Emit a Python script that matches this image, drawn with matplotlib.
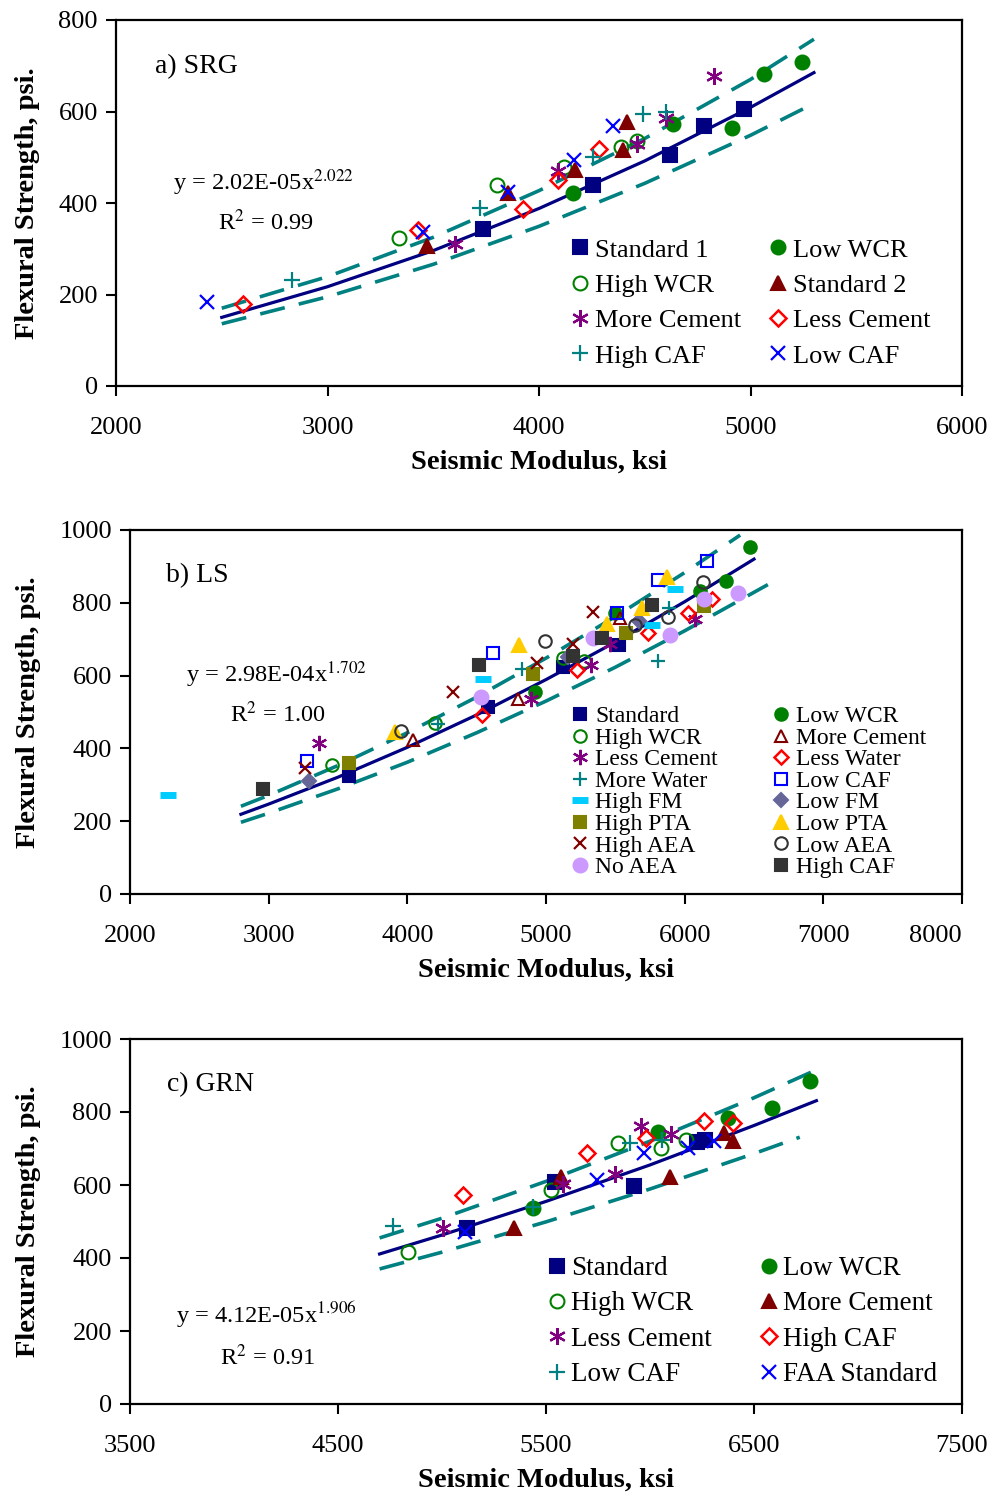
import matplotlib
matplotlib.use("Agg")
import matplotlib.pyplot as plt

plt.rcParams['font.family'] = ['Liberation Serif', 'DejaVu Serif']
plt.rcParams['mathtext.fontset'] = 'stix'

# ---------------- Panel a) SRG ----------------
a_std1_x = [3734, 4254, 4619, 4780, 4969]
a_std1_y = [343, 439, 505, 568, 605]
a_lowwcr_x = [4159, 4632, 4911, 5064, 5245]
a_lowwcr_y = [421, 573, 565, 682, 709]
a_highwcr_x = [3338, 3800, 4120, 4386, 4462]
a_highwcr_y = [323, 439, 479, 522, 536]
a_std2_x = [3469, 3855, 4170, 4395, 4414]
a_std2_y = [305, 421, 472, 516, 578]
a_morecem_x = [3603, 4091, 4462, 4600, 4827]
a_morecem_y = [310, 469, 530, 585, 678]
a_lesscem_x = [2602, 3429, 3926, 4091, 4285]
a_lesscem_y = [179, 340, 386, 450, 517]
a_highcaf_x = [2831, 3721, 4257, 4490, 4600]
a_highcaf_y = [232, 388, 501, 595, 600]
a_lowcaf_x = [2432, 3453, 3855, 4165, 4348]
a_lowcaf_y = [184, 337, 425, 495, 568]

a_fit_x = [2500, 3000, 3500, 4000, 4500, 5000, 5300]
a_fit_y = [150, 217, 296, 388, 492, 609, 685]
a_up_x = [2500, 3000, 3500, 4000, 4500, 5000, 5300]
a_up_y = [170, 239, 325, 427, 541, 670, 758]
a_lo_x = [2500, 3000, 3500, 4000, 4500, 5000, 5250]
a_lo_y = [136, 195, 266, 349, 443, 548, 606]

# ---------------- Panel b) LS ----------------
b_std_x = [3579, 4584, 5125, 5527]
b_std_y = [325, 514, 624, 684]
b_lowwcr_x = [4921, 5498, 6111, 6298, 6472]
b_lowwcr_y = [556, 771, 832, 861, 952]
b_highwcr_x = [3454, 4200, 5125, 5274]
b_highwcr_y = [354, 469, 647, 641]
b_morecem_x = [4039, 4800, 5534]
b_morecem_y = [423, 537, 757]
b_lesscem_x = [3365, 4890, 5322, 5462, 6077]
b_lesscem_y = [414, 535, 629, 688, 755]
b_lesswater_x = [4536, 5221, 5739, 6027, 6195]
b_lesswater_y = [492, 615, 716, 772, 810]
b_morewater_x = [4224, 4825, 5810, 5890]
b_morewater_y = [467, 618, 641, 787]
b_lowcaf_x = [3279, 4616, 5510, 5810, 6159]
b_lowcaf_y = [366, 662, 773, 864, 915]
b_highfm_x = [2274, 4548, 5762, 5931]
b_highfm_y = [272, 592, 739, 837]
b_lowfm_x = [3293, 5161, 5673]
b_lowfm_y = [311, 652, 750]
b_highpta_x = [3579, 4904, 5577, 6142]
b_highpta_y = [361, 604, 718, 791]
b_lowpta_x = [3911, 4805, 5438, 5690, 5870]
b_lowpta_y = [446, 684, 743, 787, 872]
b_highaea_x = [3262, 4330, 4938, 5192, 5341]
b_highaea_y = [345, 556, 634, 688, 775]
b_lowaea_x = [3954, 4993, 5642, 5882, 6130]
b_lowaea_y = [448, 696, 739, 760, 856]
b_noaea_x = [4530, 5341, 5894, 6142, 6387]
b_noaea_y = [542, 702, 711, 810, 827]
b_highcaf_x = [2961, 4518, 5192, 5406, 5767]
b_highcaf_y = [288, 629, 654, 702, 794]

b_fit_x = [2800, 3000, 3500, 4000, 4500, 5000, 5500, 6000, 6500]
b_fit_y = [219, 247, 321, 403, 492, 589, 692, 803, 920]
b_up_x = [2800, 3000, 3500, 4000, 4500, 5000, 5500, 6000, 6400]
b_up_y = [241, 271, 353, 443, 541, 648, 762, 883, 986]
b_lo_x = [2800, 3000, 3500, 4000, 4500, 5000, 5500, 6000, 6600]
b_lo_y = [197, 222, 289, 362, 443, 530, 623, 723, 850]

# ---------------- Panel c) GRN ----------------
c_std_x = [5119, 5543, 5925, 6224, 6265]
c_std_y = [481, 609, 597, 719, 723]
c_lowwcr_x = [5436, 6040, 6377, 6585, 6769]
c_lowwcr_y = [536, 746, 783, 810, 886]
c_highwcr_x = [4838, 5522, 5848, 6051, 6173]
c_highwcr_y = [417, 586, 716, 701, 723]
c_morecem_x = [5346, 5571, 6096, 6356, 6398]
c_morecem_y = [481, 623, 623, 743, 721]
c_lesscem_x = [5003, 5580, 5832, 5955, 6099]
c_lesscem_y = [481, 603, 630, 762, 740]
c_highcaf_x = [5100, 5695, 5981, 6260, 6398]
c_highcaf_y = [573, 689, 728, 776, 771]
c_lowcaf_x = [4763, 5436, 5904, 6056]
c_lowcaf_y = [489, 540, 716, 723]
c_faa_x = [5111, 5743, 5971, 6184, 6308]
c_faa_y = [470, 614, 689, 702, 721]

c_fit_x = [4700, 5000, 5500, 6000, 6500, 6800]
c_fit_y = [411, 463, 555, 655, 763, 831]
c_up_x = [4700, 5000, 5500, 6000, 6500, 6790]
c_up_y = [455, 509, 610, 720, 839, 913]
c_lo_x = [4700, 5000, 5500, 6000, 6500, 6720]
c_lo_y = [370, 416, 499, 589, 686, 731]

# ---------------- styles ----------------
NAVY = '#000080'; GREEN = '#008000'; DRED = '#800000'; PURPLE = '#800080'
RED = '#FF0000'; TEAL = '#008080'; BLUE = '#0000FF'; CYAN = '#00CCFF'
SLATE = '#666699'; OLIVE = '#808000'; GOLD = '#FFCC00'; DGRAY = '#333333'
LAV = '#CC99FF'
AST = (6, 2, 0)


def st(marker, color, filled=True, ms=9, mew=1.5):
    d = dict(marker=marker, linestyle='none', markersize=ms, markeredgewidth=mew,
             markeredgecolor=color)
    d['markerfacecolor'] = color if filled else 'none'
    return d


S_SQ = lambda c, ms=10: st('s', c, True, ms)
S_CIRC = lambda c, ms=10: st('o', c, True, ms)
S_OCIRC = lambda c, ms=10: st('o', c, False, ms)
S_TRI = lambda c, ms=10: st('^', c, True, ms)
S_OTRI = lambda c, ms=9: st('^', c, False, ms)
S_AST = lambda c, ms=12: st(AST, c, False, ms, 1.6)
S_DIA = lambda c, ms=8: st('D', c, False, ms, 1.8)
S_PLUS = lambda c, ms=11: st('+', c, False, ms, 1.6)
S_X = lambda c, ms=10: st('x', c, False, ms, 1.6)

W, H = 994, 1496
fig = plt.figure(figsize=(W / 100, H / 100), dpi=100)

TICKFS = 19
LABFS = 20.5
TXTFS = 17.6


def make_ax(l, r, t, b):
    return fig.add_axes([l / W, (H - b) / H, (r - l) / W, (b - t) / H])


def style_ax(ax, xlim, ylim, xt, yt):
    ax.set_xlim(*xlim); ax.set_ylim(*ylim)
    ax.set_xticks(xt); ax.set_yticks(yt)
    ax.tick_params(direction='out', length=7, width=1.5, labelsize=TICKFS, pad=6)
    ax.tick_params(axis='x', pad=15)
    for s in ax.spines.values():
        s.set_linewidth(1.6)
    ax.set_xlabel('Seismic Modulus, ksi', fontsize=LABFS, fontweight='bold', labelpad=8)
    ax.set_ylabel('Flexural Strength, psi.', fontsize=LABFS, fontweight='bold', labelpad=13)


def draw_fit(ax, fx, fy, ux, uy, lx, ly):
    ax.plot(fx, fy, color=NAVY, lw=2.3, zorder=2)
    ax.plot(ux, uy, color=TEAL, lw=2.6, linestyle=(0, (7, 4)), zorder=2)
    ax.plot(lx, ly, color=TEAL, lw=2.6, linestyle=(0, (7, 4)), zorder=2)


# ---- a ----
axa = make_ax(116, 962, 20, 386)
draw_fit(axa, a_fit_x, a_fit_y, a_up_x, a_up_y, a_lo_x, a_lo_y)
sa = [
    ('Standard 1', a_std1_x, a_std1_y, S_SQ(NAVY)),
    ('Low WCR', a_lowwcr_x, a_lowwcr_y, S_CIRC(GREEN)),
    ('High WCR', a_highwcr_x, a_highwcr_y, S_OCIRC(GREEN)),
    ('Standard 2', a_std2_x, a_std2_y, S_TRI(DRED)),
    ('More Cement', a_morecem_x, a_morecem_y, S_AST(PURPLE)),
    ('Less Cement', a_lesscem_x, a_lesscem_y, S_DIA(RED)),
    ('High CAF', a_highcaf_x, a_highcaf_y, S_PLUS(TEAL)),
    ('Low CAF', a_lowcaf_x, a_lowcaf_y, S_X(BLUE)),
]
ha = []
for lab, x, y, s in sa:
    h, = axa.plot(x, y, label=lab, zorder=3, **s)
    ha.append(h)
style_ax(axa, (2000, 6000), (0, 800), [2000, 3000, 4000, 5000, 6000], [0, 200, 400, 600, 800])
axa.text(0.046, 0.872, 'a) SRG', transform=axa.transAxes, fontsize=20, va='center')
axa.text(0.067, 0.555, r'y = 2.02E-05x$^{2.022}$', transform=axa.transAxes, fontsize=TXTFS, va='center')
axa.text(0.1206, 0.448, r'R$^{2}$ = 0.99', transform=axa.transAxes, fontsize=TXTFS, va='center')
order = [0, 2, 4, 6, 1, 3, 5, 7]
axa.legend([ha[i] for i in order], [sa[i][0] for i in order], ncol=2, frameon=False,
           loc='upper left', bbox_to_anchor=(0.534, 0.404), borderpad=0, borderaxespad=0,
           fontsize=19, handlelength=0.9, handletextpad=0.12, labelspacing=0.45,
           columnspacing=0.95)

# ---- b ----
axb = make_ax(130, 962, 530, 894)
draw_fit(axb, b_fit_x, b_fit_y, b_up_x, b_up_y, b_lo_x, b_lo_y)
ms_b = 9
sb = [
    ('Standard', b_std_x, b_std_y, S_SQ(NAVY, ms_b)),
    ('Low WCR', b_lowwcr_x, b_lowwcr_y, S_CIRC(GREEN, ms_b)),
    ('High WCR', b_highwcr_x, b_highwcr_y, S_OCIRC(GREEN, ms_b)),
    ('More Cement', b_morecem_x, b_morecem_y, S_OTRI(DRED, ms_b)),
    ('Less Cement', b_lesscem_x, b_lesscem_y, S_AST(PURPLE, 11)),
    ('Less Water', b_lesswater_x, b_lesswater_y, S_DIA(RED, 7.5)),
    ('More Water', b_morewater_x, b_morewater_y, S_PLUS(TEAL, 10)),
    ('Low CAF', b_lowcaf_x, b_lowcaf_y, st('s', BLUE, False, ms_b)),
    ('High FM', b_highfm_x, b_highfm_y, st('_', CYAN, False, 12, 5)),
    ('Low FM', b_lowfm_x, b_lowfm_y, st('D', SLATE, True, 7.5)),
    ('High PTA', b_highpta_x, b_highpta_y, S_SQ(OLIVE, ms_b)),
    ('Low PTA', b_lowpta_x, b_lowpta_y, S_TRI(GOLD, 10)),
    ('High AEA', b_highaea_x, b_highaea_y, S_X(DRED, ms_b)),
    ('Low AEA', b_lowaea_x, b_lowaea_y, S_OCIRC(DGRAY, ms_b)),
    ('No AEA', b_noaea_x, b_noaea_y, S_CIRC(LAV, 10)),
    ('High CAF', b_highcaf_x, b_highcaf_y, S_SQ(DGRAY, ms_b)),
]
hb = []
for lab, x, y, s in sb:
    h, = axb.plot(x, y, label=lab, zorder=3, **s)
    hb.append(h)
style_ax(axb, (2000, 8000), (0, 1000), [2000, 3000, 4000, 5000, 6000, 7000, 8000],
         [0, 200, 400, 600, 800, 1000])
xl = axb.get_xticklabels()
xl[-1].set_horizontalalignment('right')
axb.text(0.043, 0.876, 'b) LS', transform=axb.transAxes, fontsize=20, va='center')
axb.text(0.067, 0.602, r'y = 2.98E-04x$^{1.702}$', transform=axb.transAxes, fontsize=TXTFS, va='center')
axb.text(0.12, 0.493, r'R$^{2}$ = 1.00', transform=axb.transAxes, fontsize=TXTFS, va='center')
order_b = [0, 2, 4, 6, 8, 10, 12, 14, 1, 3, 5, 7, 9, 11, 13, 15]
axb.legend([hb[i] for i in order_b], [sb[i][0] for i in order_b], ncol=2, frameon=False,
           loc='upper left', bbox_to_anchor=(0.528, 0.517), borderpad=0, borderaxespad=0,
           fontsize=17, handlelength=0.9, handletextpad=0.19, labelspacing=0.0,
           columnspacing=2.22)

# ---- c ----
axc = make_ax(130, 962, 1039, 1404)
draw_fit(axc, c_fit_x, c_fit_y, c_up_x, c_up_y, c_lo_x, c_lo_y)
sc = [
    ('Standard', c_std_x, c_std_y, S_SQ(NAVY)),
    ('Low WCR', c_lowwcr_x, c_lowwcr_y, S_CIRC(GREEN)),
    ('High WCR', c_highwcr_x, c_highwcr_y, S_OCIRC(GREEN)),
    ('More Cement', c_morecem_x, c_morecem_y, S_TRI(DRED)),
    ('Less Cement', c_lesscem_x, c_lesscem_y, S_AST(PURPLE)),
    ('High CAF', c_highcaf_x, c_highcaf_y, S_DIA(RED)),
    ('Low CAF', c_lowcaf_x, c_lowcaf_y, S_PLUS(TEAL)),
    ('FAA Standard', c_faa_x, c_faa_y, S_X(BLUE)),
]
hc = []
for lab, x, y, s in sc:
    h, = axc.plot(x, y, label=lab, zorder=3, **s)
    hc.append(h)
style_ax(axc, (3500, 7500), (0, 1000), [3500, 4500, 5500, 6500, 7500],
         [0, 200, 400, 600, 800, 1000])
axc.text(0.044, 0.874, 'c) GRN', transform=axc.transAxes, fontsize=20, va='center')
axc.text(0.055, 0.245, r'y = 4.12E-05x$^{1.906}$', transform=axc.transAxes, fontsize=TXTFS, va='center')
axc.text(0.108, 0.128, r'R$^{2}$ = 0.91', transform=axc.transAxes, fontsize=TXTFS, va='center')
axc.legend([hc[i] for i in order], [sc[i][0] for i in order], ncol=2, frameon=False,
           loc='upper left', bbox_to_anchor=(0.4988, 0.405), borderpad=0, borderaxespad=0,
           fontsize=19.5, handlelength=0.9, handletextpad=0.07, labelspacing=0.38,
           columnspacing=1.66)

fig.savefig('out.png', dpi=100)
